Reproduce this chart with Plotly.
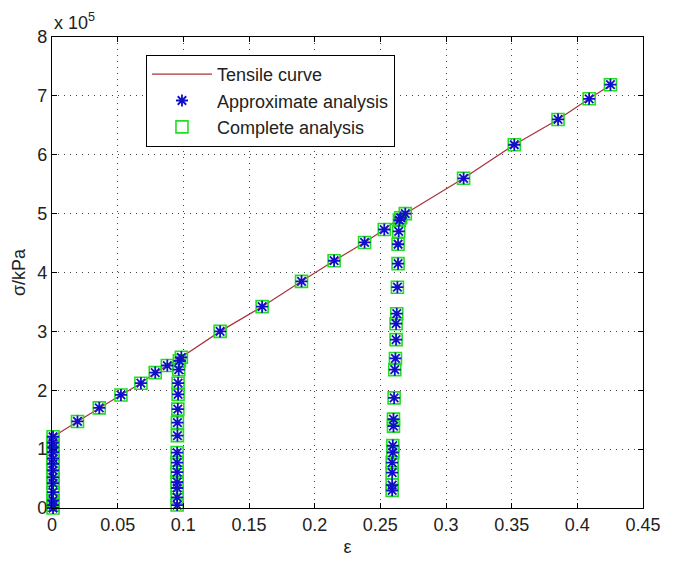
import plotly.graph_objects as go

# strain values and stress values (in units of 10^5 kPa)
curve_eps = [0.0, 0.0008, 0.0194, 0.036, 0.0525, 0.0677, 0.0786, 0.0878, 0.0985,
             0.128, 0.16, 0.19, 0.2148, 0.238, 0.253, 0.269, 0.3134, 0.352,
             0.3853, 0.409, 0.4265]
curve_sig = [0.0, 1.21, 1.47, 1.70, 1.92, 2.12, 2.30, 2.42, 2.56,
             3.00, 3.42, 3.85, 4.20, 4.51, 4.73, 5.00, 5.60, 6.17,
             6.60, 6.95, 7.20]

pts_eps = [0.0008, 0.0008, 0.0008, 0.0008, 0.0008, 0.0008, 0.0008, 0.0008, 0.0008,
           0.0008, 0.0008, 0.0008, 0.0008,
           0.0194, 0.036, 0.0525, 0.0677, 0.0786, 0.0878,
           0.0985, 0.097, 0.0965, 0.096, 0.096, 0.0958, 0.0955, 0.0955, 0.0953,
           0.0953, 0.0953, 0.0953, 0.0953, 0.0953, 0.0953,
           0.128, 0.16, 0.19, 0.2148, 0.238, 0.253,
           0.269, 0.2655, 0.2645, 0.264, 0.2635, 0.2635, 0.263, 0.2625, 0.262,
           0.262, 0.2615, 0.261, 0.2605, 0.260, 0.260, 0.2595, 0.2595, 0.259,
           0.259, 0.259, 0.259,
           0.3134, 0.352, 0.3853, 0.409, 0.4252]
pts_sig = [0.0, 0.05, 0.13, 0.27, 0.42, 0.52, 0.64, 0.75, 0.84, 0.95, 1.03, 1.11, 1.21,
           1.47, 1.70, 1.92, 2.12, 2.30, 2.42,
           2.56, 2.50, 2.35, 2.12, 1.93, 1.68, 1.45, 1.23, 0.94,
           0.77, 0.61, 0.44, 0.34, 0.18, 0.05,
           3.00, 3.42, 3.85, 4.20, 4.51, 4.73,
           5.00, 4.93, 4.89, 4.70, 4.48, 4.15, 3.75, 3.30, 3.13,
           2.86, 2.54, 2.35, 1.87, 1.51, 1.39, 1.06, 0.94, 0.77,
           0.60, 0.39, 0.30,
           5.60, 6.17, 6.60, 6.95, 7.19]

x_ticks = [0, 0.05, 0.1, 0.15, 0.2, 0.25, 0.3, 0.35, 0.4, 0.45]
x_labels = ["0", "0.05", "0.1", "0.15", "0.2", "0.25", "0.3", "0.35", "0.4", "0.45"]
y_ticks = [0, 1, 2, 3, 4, 5, 6, 7, 8]
y_labels = ["0", "1", "2", "3", "4", "5", "6", "7", "8"]

FONT = "Liberation Sans, Arial, sans-serif"

fig = go.Figure()
fig.add_trace(go.Scatter(x=curve_eps, y=curve_sig, mode="lines", name="Tensile curve",
                         line=dict(color="#a8323e", width=1.2), legendrank=1,
                         cliponaxis=False))
fig.add_trace(go.Scatter(x=pts_eps, y=pts_sig, mode="markers", name="Complete analysis",
                         marker=dict(symbol="square-open", size=12, color="#22dd22",
                                     line=dict(width=1.6, color="#22dd22")),
                         legendrank=3, cliponaxis=False))
fig.add_trace(go.Scatter(x=pts_eps, y=pts_sig, mode="markers", name="Approximate analysis",
                         marker=dict(symbol="asterisk-open", size=10, color="#1010c8",
                                     line=dict(width=1.8, color="#1010c8")),
                         legendrank=2, cliponaxis=False))

axis_common = dict(showline=True, linecolor="black", linewidth=1.2, mirror="allticks",
                   ticks="inside", ticklen=5, tickcolor="black", showgrid=True,
                   gridcolor="#444", gridwidth=1, griddash="1px,5px", zeroline=False,
                   tickfont=dict(family=FONT, size=18, color="#222"))

fig.update_xaxes(range=[0, 0.45], tickvals=x_ticks, ticktext=x_labels,
                 title=dict(text="ε", font=dict(family=FONT, size=18, color="#222"),
                            standoff=6),
                 **axis_common)
fig.update_yaxes(range=[0, 8], tickvals=y_ticks, ticktext=y_labels,
                 title=dict(text="σ/kPa", font=dict(family=FONT, size=18, color="#222"),
                            standoff=6),
                 **axis_common)

fig.add_annotation(x=0, y=1, xref="paper", yref="paper", xanchor="left", yanchor="bottom",
                   text="x 10<sup>5</sup>", showarrow=False, yshift=2,
                   font=dict(family=FONT, size=18, color="#222"))

fig.update_layout(
    width=673, height=565,
    margin=dict(l=52, r=18, t=37, b=52),
    plot_bgcolor="white", paper_bgcolor="white",
    showlegend=True,
    legend=dict(x=0.159, y=0.962, xanchor="left", yanchor="top",
                bgcolor="white", bordercolor="black", borderwidth=1,
                font=dict(family=FONT, size=18, color="#222"),
                itemwidth=60),
)

fig.write_html("out.html")
